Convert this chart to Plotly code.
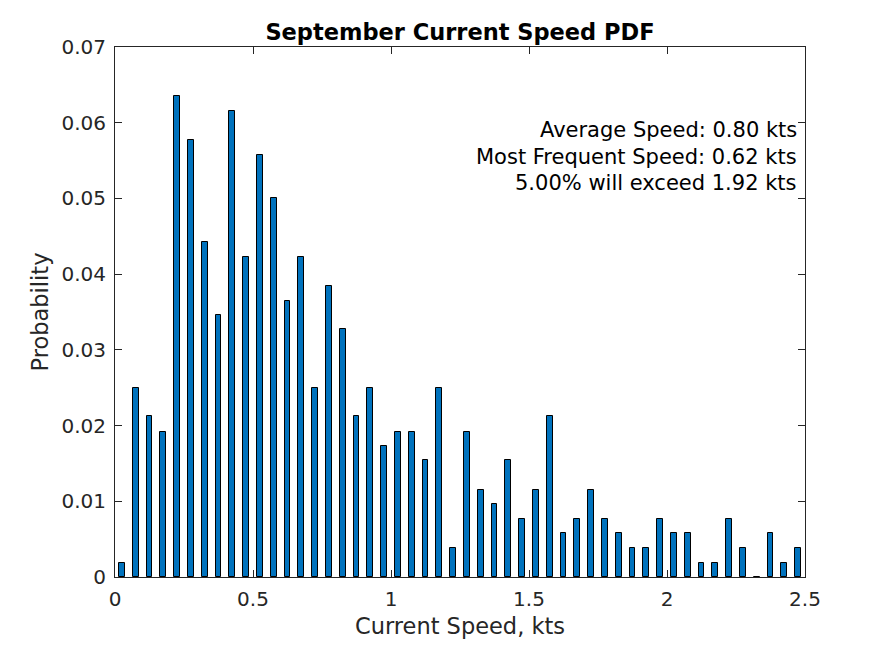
import plotly.graph_objects as go

bin_centers = [round(0.025 + 0.05 * i, 3) for i in range(50)]
probability = [
    0.0019, 0.0250, 0.0212, 0.0192, 0.0635, 0.0577, 0.0442, 0.0346, 0.0615, 0.0423,
    0.0558, 0.0500, 0.0365, 0.0423, 0.0250, 0.0385, 0.0327, 0.0212, 0.0250, 0.0173,
    0.0192, 0.0192, 0.0154, 0.0250, 0.0038, 0.0192, 0.0115, 0.0096, 0.0154, 0.0077,
    0.0115, 0.0212, 0.0058, 0.0077, 0.0115, 0.0077, 0.0058, 0.0038, 0.0038, 0.0077,
    0.0058, 0.0058, 0.0019, 0.0019, 0.0077, 0.0038, 0.0000, 0.0058, 0.0019, 0.0038,
]
x_ticks = [0, 0.5, 1, 1.5, 2, 2.5]
x_tick_labels = ["0", "0.5", "1", "1.5", "2", "2.5"]
y_ticks = [0, 0.01, 0.02, 0.03, 0.04, 0.05, 0.06, 0.07]
y_tick_labels = ["0", "0.01", "0.02", "0.03", "0.04", "0.05", "0.06", "0.07"]
stats_lines = [
    "Average Speed: 0.80 kts",
    "Most Frequent Speed: 0.62 kts",
    "5.00% will exceed 1.92 kts",
]

FONT = "DejaVu Sans"
AX = "#262626"

fig = go.Figure()
fig.add_trace(go.Bar(
    x=bin_centers, y=probability, width=0.021,
    marker=dict(color="#0072BD", line=dict(color="black", width=1)),
    showlegend=False,
))

axis_common = dict(
    showline=True, linecolor=AX, linewidth=1, mirror="allticks",
    ticks="inside", ticklen=7, tickcolor=AX, tickwidth=1,
    showgrid=False, zeroline=False,
    tickfont=dict(family=FONT, size=20, color=AX),
    ticklabelstandoff=4,
)

fig.update_layout(
    width=887, height=648,
    margin=dict(l=107, r=90, t=39, b=79),
    paper_bgcolor="white", plot_bgcolor="white",
    title=dict(text="<b>September Current Speed PDF</b>", x=0.5, xref="paper", xanchor="center",
               y=(648 - 24) / 648, yanchor="middle",
               font=dict(family=FONT, size=22.5, color="black")),
    xaxis=dict(range=[0, 2.5], tickvals=x_ticks, ticktext=x_tick_labels,
               title=dict(text="Current Speed, kts", font=dict(family=FONT, size=22.5, color=AX), standoff=8),
               **axis_common),
    yaxis=dict(range=[0, 0.07], tickvals=y_ticks, ticktext=y_tick_labels,
               title=dict(text="Probability", font=dict(family=FONT, size=22.5, color=AX), standoff=6),
               **axis_common),
    bargap=0,
)

for i, line in enumerate(stats_lines):
    fig.add_annotation(
        xref="paper", yref="paper", x=(799 - 115) / 690, y=(577 - (130 + 26.5 * i)) / 530,
        text=line, showarrow=False, xanchor="right", yanchor="middle",
        font=dict(family=FONT, size=21, color="black"),
    )

fig.write_html("out.html")
